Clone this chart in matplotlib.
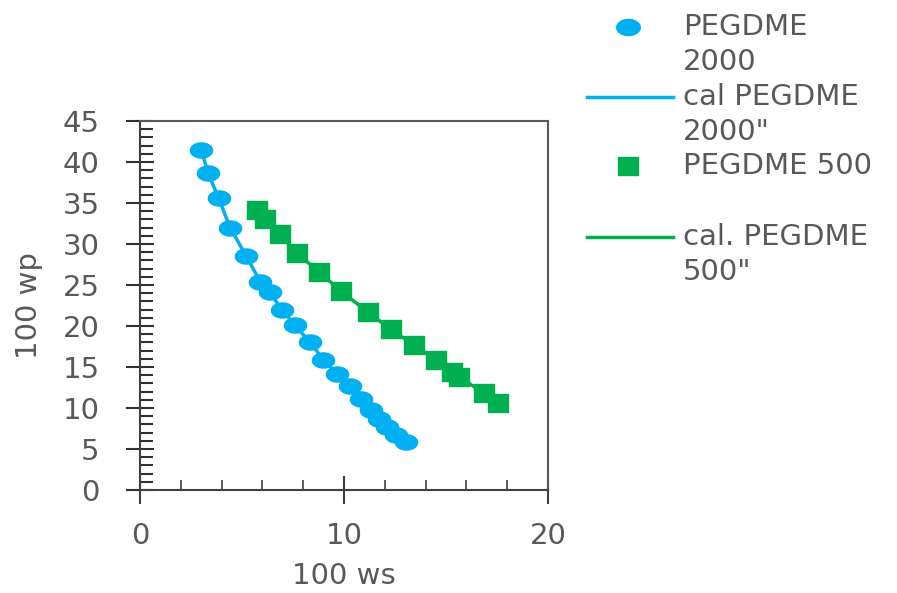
import numpy as np
import matplotlib
matplotlib.use("Agg")
import matplotlib.pyplot as plt
from matplotlib.path import Path
from matplotlib.lines import Line2D
from matplotlib.ticker import MultipleLocator

# PEGDME 2000 (points + calculated curve)
ws_2000 = [3.0, 3.33, 3.85, 4.42, 5.21, 5.9, 6.35, 6.96, 7.58, 8.35, 8.98,
           9.66, 10.29, 10.81, 11.3, 11.71, 12.12, 12.53, 13.02]
wp_2000 = [41.5, 38.7, 35.6, 32.0, 28.5, 25.4, 24.1, 22.0, 20.1, 18.0, 15.9,
           14.2, 12.7, 11.1, 9.8, 8.7, 7.7, 6.7, 5.9]

# PEGDME 500
ws_500 = [5.73, 6.14, 6.85, 7.7, 8.77, 9.83, 11.17, 12.29, 13.43, 14.5,
          15.31, 15.64, 16.87, 17.53]
wp_500 = [34.2, 33.0, 31.2, 28.9, 26.6, 24.3, 21.7, 19.6, 17.7, 15.9,
          14.4, 13.8, 11.8, 10.6]

labels = ["PEGDME\n2000", "cal PEGDME\n2000\"", "PEGDME 500", "cal. PEGDME\n500\""]

blue = "#00B0F0"
green = "#00B050"
grey = "#595959"
fs = 21

plt.rcParams['font.family'] = ['DejaVu Sans']

# squashed markers, the original picture is stretched sideways
t = np.linspace(0, 2 * np.pi, 60)
ellipse = Path(np.column_stack([np.cos(t), 0.68 * np.sin(t)]), closed=True)
rect = Path([(-1, -0.85), (1, -0.85), (1, 0.85), (-1, 0.85), (-1, -0.85)],
            closed=True)

fig = plt.figure(figsize=(8.97, 5.93), dpi=100)
ax = fig.add_axes([140 / 897, 1 - 490 / 593, 408 / 897, 369 / 593])

ax.plot(ws_2000, wp_2000, color=blue, lw=2.5, zorder=2)
ax.plot(ws_2000, wp_2000, ls='none', marker=ellipse, ms=16, color=blue,
        mec=blue, zorder=3)
ax.plot(ws_500, wp_500, color=green, lw=2.5, zorder=2)
ax.plot(ws_500, wp_500, ls='none', marker=rect, ms=15, color=green,
        mec=green, zorder=3)

ax.set_xlim(0, 20)
ax.set_ylim(0, 45)
ax.xaxis.set_major_locator(MultipleLocator(10))
ax.xaxis.set_minor_locator(MultipleLocator(2))
ax.yaxis.set_major_locator(MultipleLocator(5))
ax.yaxis.set_minor_locator(MultipleLocator(1))

for s in ax.spines.values():
    s.set_color(grey)
    s.set_linewidth(1.5)
ax.spines['left'].set_color('#404040')
ax.spines['bottom'].set_color('#404040')

ax.tick_params(axis='y', which='major', direction='inout', length=20,
               width=1.5, color='#303030', pad=19, labelsize=fs,
               labelcolor=grey)
ax.tick_params(axis='y', which='minor', direction='in', length=9,
               width=1.5, color='#303030')
ax.tick_params(axis='x', which='major', direction='inout', length=20,
               width=1.5, color='#404040', pad=13, labelsize=fs,
               labelcolor=grey)
ax.tick_params(axis='x', which='minor', direction='in', length=7,
               width=1.2, color='#404040')

ax.set_xlabel("100 ws", fontsize=fs, color=grey, labelpad=9)
ax.set_ylabel("100 wp", fontsize=fs, color=grey, labelpad=14)

# legend drawn by hand: handle sits on the first text line
rows = [27, 97, 166, 237]
styles = [dict(ls='none', marker=ellipse, ms=17, color=blue),
          dict(ls='-', lw=2.5, color=blue),
          dict(ls='none', marker=rect, ms=15, color=green),
          dict(ls='-', lw=2.5, color=green)]
for yy, st, lab in zip(rows, styles, labels):
    yf = 1 - yy / 593
    if st['ls'] == 'none':
        fig.add_artist(Line2D([628 / 897], [yf], transform=fig.transFigure,
                              **st))
    else:
        fig.add_artist(Line2D([587 / 897, 673 / 897], [yf, yf],
                              transform=fig.transFigure, **st))
    fig.text(683 / 897, yf + 14 / 593, lab, fontsize=fs, color=grey,
             va='top', ha='left', linespacing=1.31,
             transform=fig.transFigure)

fig.savefig("out.png", dpi=100)
